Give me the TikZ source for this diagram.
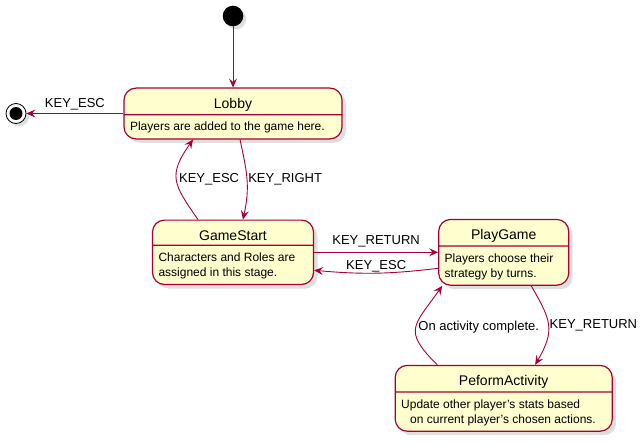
\documentclass[tikz,border=0pt]{standalone}
\usepackage{fontspec}
\setmainfont{Liberation Sans}
\usetikzlibrary{positioning, arrows.meta, shapes.multipart, shadows}
\definecolor{umlfill}{HTML}{FEFECE}
\definecolor{umlred}{HTML}{A80036}
\newcommand{\sttitle}[1]{\centering\fontsize{14}{18}\selectfont\rule[-1.5pt]{0pt}{18pt}#1\par}
\newcommand{\dline}[1]{\noindent\fontsize{12}{15}\selectfont\mbox{\rule[-2.5pt]{0pt}{15pt}#1}\par}
\newcommand{\dlast}[1]{\noindent\fontsize{12}{15}\selectfont\mbox{\rule[-4.5pt]{0pt}{17pt}#1}\par}
\tikzset{
    node distance=80pt, % gap between states, changed per node below
    umlstate/.style={ % a state box: its name on top, its text below the line
        rectangle split, rectangle split parts=2,
        draw=umlred, line width=1.2pt, fill=umlfill,
        rounded corners=12pt,
        inner xsep=6pt, inner ysep=3pt,
        drop shadow={shadow xshift=4pt, shadow yshift=-4pt, opacity=.25}
    },
    trans/.style={ % a transition between two states
        draw=umlred, line width=.9pt,
        -{Stealth[length=9pt, width=8pt, inset=3.5pt]}
    }
}

\begin{document}
\begin{tikzpicture}[x=1pt, y=1pt]
        \tikzset{
            init/.style={circle,fill=black,minimum size=20.6pt,inner sep=0pt,
                drop shadow={shadow xshift=3pt,shadow yshift=-3pt,opacity=.25}},
            endstate/.style={circle,draw=black,fill=white,line width=.8pt,minimum size=20pt,inner sep=0pt,
                drop shadow={shadow xshift=3pt,shadow yshift=-3pt,opacity=.25}},
            lbl/.style={font=\fontsize{13}{15}\selectfont,text=black,inner sep=2pt},
        }
        \useasboundingbox (0,0) rectangle (641,-444);
        \node[init] (start) at (233,-16) {};
        \node[umlstate,text width=206pt,below=61pt of start] (lobby)
            {\sttitle{Lobby}\nodepart{two}\dlast{Players are added to the game here.}};
        \node[umlstate,text width=149pt,below=80pt of lobby] (gamestart)
            {\sttitle{GameStart}\nodepart{two}\dline{Characters and Roles are}\dlast{assigned in this stage.}};
        \node[umlstate,text width=118pt,right=124pt of gamestart] (playgame)
            {\sttitle{PlayGame}\nodepart{two}\dline{Players choose their}\dlast{strategy by turns.}};
        \node[umlstate,text width=205pt,below=79pt of playgame] (perform)
            {\sttitle{PeformActivity}\nodepart{two}\dline{Update other player's stats based}\dlast{\hspace*{9pt}on current player's chosen actions.}};
        \node[endstate,left=97pt of lobby] (finish) {};
        \fill (finish.center) circle (6.5pt);

        \draw[trans] (start) -- (lobby.north);
        \draw[trans] (lobby.west) -- node[lbl,above=1pt] {KEY\_ESC} (finish);
        \draw[trans] ([xshift=-35pt]gamestart.north) to[out=125,in=-125,looseness=1.4]
            node[lbl,right] {KEY\_ESC} ([xshift=-40pt]lobby.south);
        \draw[trans] ([xshift=7pt]lobby.south) to[out=-78,in=78,looseness=1.1]
            node[lbl,right,inner sep=1pt] {KEY\_RIGHT} ([xshift=10pt]gamestart.north);
        \draw[trans] (gamestart.east) -- node[lbl,above=3pt] {KEY\_RETURN} (playgame.west);
        \draw[trans] ([yshift=-16pt]playgame.west) to[bend left=6]
            node[lbl,above,inner sep=1pt] {KEY\_ESC} ([yshift=-18pt]gamestart.east);
        \draw[trans] ([xshift=27.5pt]playgame.south) to[out=-60,in=60,looseness=1.3]
            node[lbl,right,inner sep=1pt] {KEY\_RETURN} ([xshift=31.5pt]perform.north);
        \draw[trans] ([xshift=-66.5pt]perform.north) to[out=135,in=-125,looseness=1.6]
            node[lbl,right] {On activity complete.} ([xshift=-61.5pt]playgame.south);
    \end{tikzpicture}
\end{document}
